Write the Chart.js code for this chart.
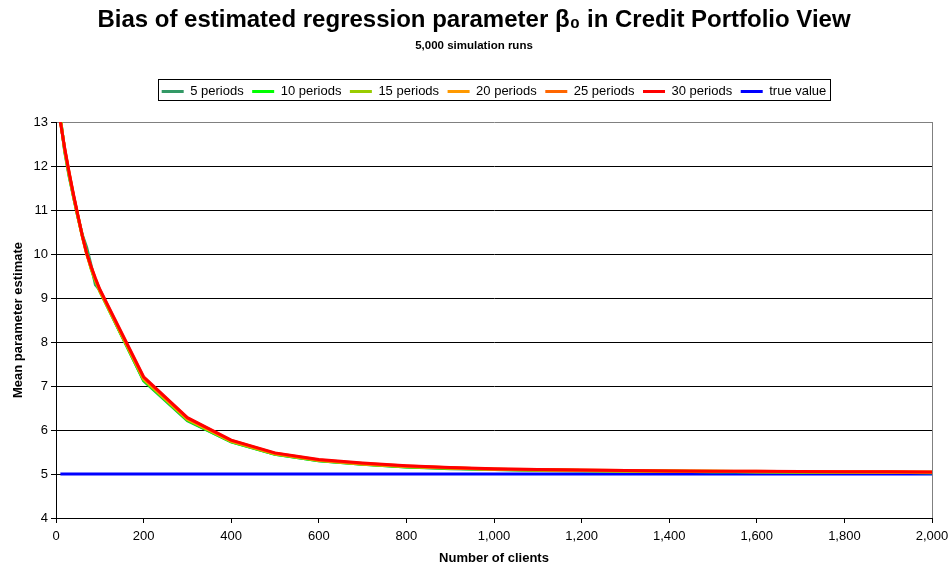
<!DOCTYPE html>
<html>
<head>
<meta charset="utf-8">
<script src="https://cdn.jsdelivr.net/npm/chart.js@4.4.0/dist/chart.umd.min.js"></script>
<style>
  html, body { margin: 0; padding: 0; background: #fff; }
  #wrap { width: 948px; height: 567px; }
</style>
</head>
<body>
<div id="wrap"><canvas id="myChart" width="948" height="567"></canvas></div>
<script>
// Number of clients (x values)
const clients = [10, 20, 30, 40, 50, 60, 70, 80, 90, 100,
  200, 300, 400, 500, 600, 700, 800, 900, 1000,
  1100, 1200, 1300, 1400, 1500, 1600, 1700, 1800, 1900, 2000];

// Mean estimate of beta_0 per number of periods
const periods5 = [13.10, 12.32, 11.76, 11.30, 10.84, 10.44, 10.15, 9.75, 9.30, 9.18,
  7.12, 6.21, 5.73, 5.45, 5.30, 5.22, 5.16, 5.12, 5.10,
  5.08, 5.07, 5.06, 5.06, 5.05, 5.05, 5.04, 5.04, 5.04, 5.03];
const periods10 = [13.08, 12.34, 11.79, 11.30, 10.85, 10.42, 10.05, 9.67, 9.38, 9.15,
  7.13, 6.22, 5.73, 5.45, 5.30, 5.22, 5.16, 5.13, 5.10,
  5.09, 5.08, 5.07, 5.06, 5.05, 5.05, 5.04, 5.04, 5.04, 5.03];
const periods15 = [13.06, 12.36, 11.81, 11.31, 10.85, 10.41, 10.02, 9.68, 9.40, 9.16,
  7.15, 6.24, 5.74, 5.46, 5.31, 5.23, 5.17, 5.13, 5.11,
  5.09, 5.08, 5.07, 5.06, 5.06, 5.05, 5.05, 5.04, 5.04, 5.04];
const periods20 = [13.04, 12.37, 11.83, 11.32, 10.86, 10.40, 10.00, 9.69, 9.41, 9.17,
  7.17, 6.25, 5.75, 5.46, 5.31, 5.23, 5.17, 5.14, 5.11,
  5.09, 5.08, 5.07, 5.07, 5.06, 5.05, 5.05, 5.05, 5.04, 5.04];
const periods25 = [13.02, 12.38, 11.84, 11.33, 10.87, 10.41, 10.01, 9.71, 9.43, 9.18,
  7.19, 6.27, 5.76, 5.47, 5.32, 5.24, 5.18, 5.14, 5.11,
  5.10, 5.09, 5.08, 5.07, 5.06, 5.06, 5.05, 5.05, 5.05, 5.04];
const periods30 = [13.00, 12.40, 11.85, 11.35, 10.88, 10.42, 10.02, 9.72, 9.45, 9.20,
  7.21, 6.28, 5.77, 5.48, 5.33, 5.25, 5.19, 5.15, 5.12,
  5.10, 5.09, 5.08, 5.07, 5.065, 5.06, 5.055, 5.05, 5.05, 5.045];

// true parameter value
const trueX = [10, 2000];
const trueValue = [5, 5];

const xTicks = [0, 200, 400, 600, 800, 1000, 1200, 1400, 1600, 1800, 2000];
const yTicks = [4, 5, 6, 7, 8, 9, 10, 11, 12, 13];

const toPoints = (xs, ys) => xs.map((x, i) => ({ x: x, y: ys[i] }));

const series = [
  { label: "5 periods", data: periods5, color: "#339966", order: 5 },
  { label: "10 periods", data: periods10, color: "#00FF00", order: 4 },
  { label: "15 periods", data: periods15, color: "#99CC00", order: 3 },
  { label: "20 periods", data: periods20, color: "#FF9900", order: 2 },
  { label: "25 periods", data: periods25, color: "#FF6600", order: 1 },
  { label: "30 periods", data: periods30, color: "#FF0000", order: 0 },
];

const datasets = series.map((s) => ({
  label: s.label,
  data: toPoints(clients, s.data),
  borderColor: s.color,
  backgroundColor: s.color,
  borderWidth: 3,
  pointRadius: 0,
  tension: 0,
  order: s.order,
}));

datasets.push({
  label: "true value",
  data: toPoints(trueX, trueValue),
  borderColor: "#0000FF",
  backgroundColor: "#0000FF",
  borderWidth: 3,
  pointRadius: 0,
  order: 6,
});

const FONT = "Arial, 'Liberation Sans'";

// empty box between legend and plot area
const spacerPlugin = {
  id: "spacer",
  beforeInit(chart) {
    Chart.layouts.addBox(chart, {
      position: "top",
      weight: 500,
      fullSize: false,
      options: { stackWeight: 1 },
      left: 0, top: 0, right: 0, bottom: 0, width: 0, height: 0,
      update(maxWidth) {
        this.width = maxWidth;
        this.height = 14;
      },
      isHorizontal() {
        return true;
      },
      draw() {},
    });
  },
};

// frame around legend + gray plot border on the right
const framePlugin = {
  id: "frame",
  afterDraw(chart) {
    const c = chart.ctx;
    const area = chart.chartArea;
    c.save();
    c.strokeStyle = "#808080";
    c.lineWidth = 1;
    c.beginPath();
    c.moveTo(Math.round(area.right) + 0.5, area.top);
    c.lineTo(Math.round(area.right) + 0.5, area.bottom);
    c.stroke();

    const boxes = chart.legend.legendHitBoxes;
    if (boxes && boxes.length) {
      let left = Infinity, right = -Infinity, top = Infinity, bottom = -Infinity;
      boxes.forEach((b) => {
        left = Math.min(left, b.left);
        right = Math.max(right, b.left + b.width);
        top = Math.min(top, b.top);
        bottom = Math.max(bottom, b.top + b.height);
      });
      const cy = (top + bottom) / 2;
      c.strokeStyle = "#000";
      c.strokeRect(Math.round(left - 4) + 0.5, Math.round(cy - 13) + 0.5,
        Math.round(right - left + 7), 21);
    }
    c.restore();
  },
};

const ctx = document.getElementById("myChart");

new Chart(ctx, {
  type: "line",
  data: { datasets: datasets },
  plugins: [spacerPlugin, framePlugin],
  options: {
    responsive: false,
    animation: false,
    layout: { padding: 0 },
    scales: {
      x: {
        type: "linear",
        min: 0,
        max: 2000,
        afterBuildTicks: (scale) => {
          scale.ticks = xTicks.map((v) => ({ value: v }));
        },
        afterFit: (scale) => {
          scale.height = 49;
          scale.paddingRight = 16;
        },
        grid: {
          drawOnChartArea: false,
          drawTicks: true,
          tickLength: 5,
          tickColor: "#000",
        },
        border: { color: "#000", width: 1 },
        ticks: {
          color: "#000",
          padding: 6,
          maxRotation: 0,
          font: { family: FONT, size: 13 },
          callback: (v) => v.toLocaleString("en-US"),
        },
        title: {
          display: true,
          text: "Number of clients",
          color: "#000",
          padding: { top: 4, bottom: 1 },
          font: { family: FONT, size: 13, weight: "bold" },
        },
      },
      y: {
        min: 4,
        max: 13,
        afterBuildTicks: (scale) => {
          scale.ticks = yTicks.map((v) => ({ value: v }));
        },
        afterFit: (scale) => {
          scale.width = 56;
          scale.paddingTop = 122;
        },
        grid: {
          color: (c) => (c.tick && c.tick.value === 13 ? "#808080" : "#000"),
          tickColor: "#000",
          tickLength: 5,
        },
        border: { color: "#000", width: 1 },
        ticks: {
          color: "#000",
          padding: 3,
          font: { family: FONT, size: 13 },
        },
        title: {
          display: true,
          text: "Mean parameter estimate",
          color: "#000",
          padding: { top: 10.5, bottom: 4 },
          font: { family: FONT, size: 13, weight: "bold" },
        },
      },
    },
    plugins: {
      title: {
        display: true,
        text: "Bias of estimated regression parameter β₀ in Credit Portfolio View",
        color: "#000",
        padding: { top: 4, bottom: 2 },
        font: { family: FONT, size: 24, weight: "bold" },
      },
      subtitle: {
        display: true,
        text: "5,000 simulation runs",
        color: "#000",
        padding: { top: 2, bottom: 24 },
        font: { family: FONT, size: 11.5, weight: "bold" },
      },
      legend: {
        position: "top",
        fullSize: false,
        labels: {
          color: "#000",
          usePointStyle: true,
          pointStyle: "line",
          pointStyleWidth: 22,
          padding: 8.5,
          sort: (a, b) => a.datasetIndex - b.datasetIndex,
          font: { family: FONT, size: 13 },
        },
      },
      tooltip: { enabled: false },
    },
  },
});
</script>
</body>
</html>
